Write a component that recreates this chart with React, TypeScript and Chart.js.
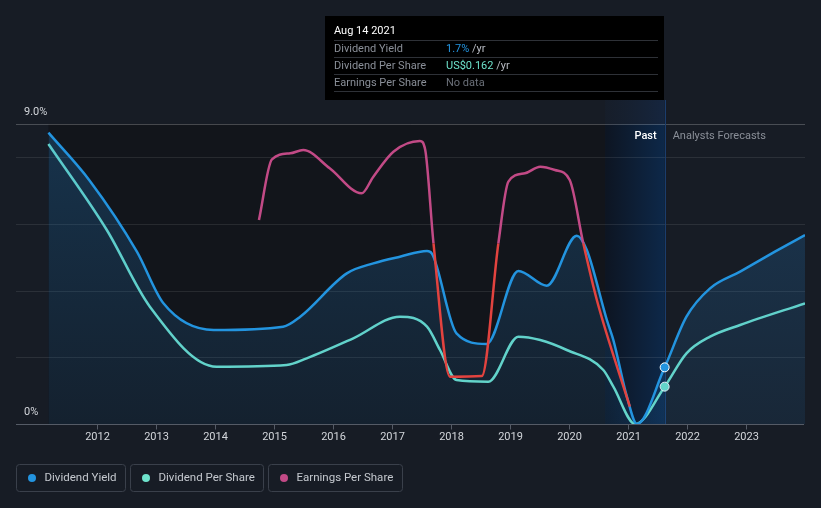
import React, { useEffect, useRef } from 'react';
import { Chart, registerables } from 'chart.js';

Chart.register(...registerables);

// ---- data (x in decimal years, y in chart units: % for yield) ----
const yieldYears = [2011.17, 2011.87, 2012.67, 2013.12, 2013.97, 2015.15, 2015.44, 2016.23, 2016.68, 2017.13, 2017.59, 2017.67, 2018.09, 2018.6, 2019.14, 2019.62, 2020.13, 2020.3, 2020.64, 2020.75, 2020.98, 2021.15, 2021.62, 2021.99, 2022.39, 2022.9, 2023.49, 2024.0];
const yieldValues = [8.74, 7.3, 5.17, 3.62, 2.82, 2.92, 3.22, 4.52, 4.82, 5.02, 5.19, 5.12, 2.72, 2.4, 4.59, 4.15, 5.65, 5.22, 3.12, 2.52, 0.82, 0.0, 1.7, 3.22, 4.07, 4.57, 5.17, 5.67];

const dpsYears = [2011.17, 2012.16, 2012.89, 2014.02, 2015.21, 2015.55, 2016.34, 2017.13, 2017.59, 2017.81, 2018.09, 2018.63, 2019.14, 2019.51, 2019.96, 2020.58, 2020.75, 2021.12, 2021.62, 2021.99, 2022.39, 2022.9, 2024.0];
const dpsValues = [8.4, 5.82, 3.52, 1.72, 1.77, 1.97, 2.57, 3.22, 2.92, 2.22, 1.32, 1.27, 2.62, 2.52, 2.22, 1.62, 1.12, 0.0, 1.12, 2.12, 2.62, 2.97, 3.62];

const epsYears = [2014.74, 2014.96, 2015.27, 2015.49, 2015.94, 2016.48, 2016.68, 2017.02, 2017.47, 2017.56, 2017.7, 2017.98, 2018.52, 2018.8, 2018.97, 2019.25, 2019.51, 2019.76, 2020.01, 2020.24, 2020.47, 2021.03];
const epsValues = [6.12, 7.94, 8.12, 8.22, 7.67, 6.92, 7.42, 8.17, 8.49, 8.22, 5.42, 1.42, 1.44, 5.42, 7.27, 7.52, 7.72, 7.62, 7.32, 5.42, 3.72, 0.52];
const epsRedThreshold = 5.42;

const yearTicks = [2012, 2013, 2014, 2015, 2016, 2017, 2018, 2019, 2020, 2021, 2022, 2023];
const yTopLabel = '9.0%';
const yBottomLabel = '0%';
const pastStart = 2011.17;
const bandStart = 2020.61;
const hoverYear = 2021.62;

const legendItems = [
  { label: 'Dividend Yield', color: '#2394df' },
  { label: 'Dividend Per Share', color: '#6ee3cc' },
  { label: 'Earnings Per Share', color: '#c24a86' },
];

const tooltipTitle = 'Aug 14 2021';
const tooltipRows = [
  { label: 'Dividend Yield', value: '1.7%', unit: ' /yr', color: '#2394df' },
  { label: 'Dividend Per Share', value: 'US$0.162', unit: ' /yr', color: '#6ee3cc' },
  { label: 'Earnings Per Share', value: 'No data', unit: '', color: '#6b7079' },
];

const BLUE = '#2394df';
const TEAL = '#6ee3cc';
const PINK = '#c24a86';
const RED = '#e2433f';
const FONT = 'Roboto, "Noto Sans", sans-serif';

const toPts = (xs: number[], ys: number[]) => xs.map((x, i) => ({ x, y: ys[i] }));

export default function App() {
  const ref = useRef<HTMLCanvasElement | null>(null);

  useEffect(() => {
    const canvas = ref.current;
    if (!canvas) return;

    const bgPlugin = {
      id: 'bgPlugin',
      beforeDraw(chart: any) {
        const { ctx, chartArea, scales } = chart;
        const xs = scales.x;
        const ys = scales.y;
        ctx.save();
        ctx.fillStyle = '#171c25';
        ctx.fillRect(0, 0, chart.width, chart.height);
        const top = ys.getPixelForValue(9);
        const bottom = ys.getPixelForValue(0);
        const px0 = xs.getPixelForValue(pastStart);
        const px1 = xs.getPixelForValue(bandStart);
        ctx.fillStyle = '#12151b';
        ctx.fillRect(px0, top, px1 - px0, bottom - top);
        const hx = xs.getPixelForValue(hoverYear);
        const g = ctx.createLinearGradient(px1, 0, hx, 0);
        g.addColorStop(0, '#0d1522');
        g.addColorStop(1, '#0d2849');
        ctx.fillStyle = g;
        ctx.fillRect(px1, top, hx - px1, bottom - top);
        const g2 = ctx.createLinearGradient(px1, 0, hx, 0);
        g2.addColorStop(0, 'rgba(20,40,70,0.15)');
        g2.addColorStop(1, 'rgba(20,50,95,0.45)');
        ctx.fillStyle = g2;
        ctx.fillRect(px1, 100, hx - px1, top - 100);
        ctx.lineWidth = 1;
        [2, 4, 6, 8].forEach((v) => {
          const y = Math.round(ys.getPixelForValue(v)) + 0.5;
          ctx.strokeStyle = 'rgba(255,255,255,0.09)';
          ctx.beginPath();
          ctx.moveTo(chartArea.left, y);
          ctx.lineTo(chartArea.right, y);
          ctx.stroke();
        });
        const ty = Math.round(top) + 0.5;
        ctx.strokeStyle = 'rgba(255,255,255,0.22)';
        ctx.beginPath();
        ctx.moveTo(chartArea.left, ty);
        ctx.lineTo(chartArea.right, ty);
        ctx.stroke();
        ctx.strokeStyle = '#1a3d6e';
        ctx.beginPath();
        ctx.moveTo(Math.round(hx) + 0.5, 100);
        ctx.lineTo(Math.round(hx) + 0.5, bottom);
        ctx.stroke();
        ctx.restore();
      },
      afterDatasetsDraw(chart: any) {
        const { ctx, chartArea, scales } = chart;
        const xs = scales.x;
        const ys = scales.y;
        ctx.save();
        const by = Math.round(ys.getPixelForValue(0)) + 0.5;
        ctx.strokeStyle = '#555b66';
        ctx.lineWidth = 1;
        ctx.beginPath();
        ctx.moveTo(chartArea.left, by);
        ctx.lineTo(chartArea.right - 1, by);
        ctx.stroke();
        ctx.font = `11px ${FONT}`;
        ctx.textAlign = 'center';
        ctx.textBaseline = 'middle';
        yearTicks.forEach((yr) => {
          const x = Math.round(xs.getPixelForValue(yr)) + 0.5;
          ctx.strokeStyle = '#555b66';
          ctx.beginPath();
          ctx.moveTo(x, by);
          ctx.lineTo(x, by + 5);
          ctx.stroke();
          ctx.fillStyle = '#d3d6db';
          ctx.fillText(String(yr), x, 437);
        });
        ctx.textAlign = 'left';
        ctx.fillStyle = '#d3d6db';
        ctx.fillText(yTopLabel, 24, ys.getPixelForValue(9) - 12);
        ctx.fillText(yBottomLabel, 24, ys.getPixelForValue(0) - 12);
        const hx = xs.getPixelForValue(hoverYear);
        ctx.textAlign = 'right';
        ctx.fillStyle = '#ffffff';
        ctx.font = `500 11px ${FONT}`;
        ctx.fillText('Past', hx - 8, 136);
        ctx.textAlign = 'left';
        ctx.fillStyle = '#8a8f98';
        ctx.font = `11px ${FONT}`;
        ctx.fillText('Analysts Forecasts', hx + 8, 136);
        ctx.restore();
      },
      afterDraw(chart: any) {
        const { ctx } = chart;
        ctx.save();
        const boxes = [
          [16.5, 109],
          [130.5, 133],
          [268.5, 134],
        ];
        legendItems.forEach((it, i) => {
          const [bx, bw] = boxes[i];
          ctx.strokeStyle = '#3a404b';
          ctx.lineWidth = 1;
          ctx.beginPath();
          (ctx as any).roundRect(bx, 464.5, bw, 27, 3);
          ctx.stroke();
          ctx.fillStyle = it.color;
          ctx.beginPath();
          ctx.arc(bx + 15.5, 478, 4, 0, Math.PI * 2);
          ctx.fill();
          ctx.fillStyle = '#c5c9cf';
          ctx.font = `11.5px ${FONT}`;
          ctx.textAlign = 'left';
          ctx.textBaseline = 'middle';
          ctx.fillText(it.label, bx + 28, 478);
        });
        ctx.fillStyle = '#000000';
        ctx.fillRect(325, 16, 339, 84);
        ctx.textBaseline = 'middle';
        ctx.textAlign = 'left';
        ctx.font = `11px ${FONT}`;
        ctx.fillStyle = '#ffffff';
        ctx.fillText(tooltipTitle, 334, 31);
        const sepY = [40.5, 57.5, 74.5, 91.5];
        ctx.strokeStyle = '#2e3137';
        sepY.forEach((y) => {
          ctx.beginPath();
          ctx.moveTo(334, y);
          ctx.lineTo(658, y);
          ctx.stroke();
        });
        tooltipRows.forEach((r, i) => {
          const y = 49 + i * 17;
          ctx.fillStyle = '#8a8f98';
          ctx.fillText(r.label, 334, y);
          ctx.fillStyle = r.color;
          ctx.fillText(r.value, 446, y);
          const w = ctx.measureText(r.value).width;
          ctx.fillStyle = '#b8bcc3';
          ctx.fillText(r.unit, 446 + w, y);
        });
        ctx.restore();
      },
    };

    const markerIdxY = yieldYears.indexOf(hoverYear);
    const markerIdxD = dpsYears.indexOf(hoverYear);

    const chart = new Chart(canvas, {
      type: 'line',
      data: {
        datasets: [
          {
            label: 'Earnings Per Share',
            data: toPts(epsYears, epsValues),
            borderColor: PINK,
            borderWidth: 2.5,
            pointRadius: 0,
            fill: false,
            cubicInterpolationMode: 'monotone',
            segment: {
              borderColor: (c: any) =>
                c.p0.parsed.y <= epsRedThreshold + 0.001 && c.p1.parsed.y <= epsRedThreshold + 0.001 ? RED : PINK,
            },
          },
          {
            label: 'Dividend Yield',
            data: toPts(yieldYears, yieldValues),
            borderColor: BLUE,
            borderWidth: 2.5,
            cubicInterpolationMode: 'monotone',
            fill: 'origin',
            backgroundColor: (c: any) => {
              const ca = c.chart.chartArea;
              if (!ca) return 'rgba(35,120,190,0.2)';
              const g = c.chart.ctx.createLinearGradient(0, ca.top, 0, ca.bottom);
              g.addColorStop(0, 'rgba(35,130,205,0.28)');
              g.addColorStop(1, 'rgba(35,120,190,0.12)');
              return g;
            },
            pointRadius: (c: any) => (c.dataIndex === markerIdxY ? 4.5 : 0),
            pointBackgroundColor: BLUE,
            pointBorderColor: '#ffffff',
            pointBorderWidth: 1,
          },
          {
            label: 'Dividend Per Share',
            data: toPts(dpsYears, dpsValues),
            borderColor: TEAL,
            borderWidth: 2.5,
            cubicInterpolationMode: 'monotone',
            fill: false,
            pointRadius: (c: any) => (c.dataIndex === markerIdxD ? 4.5 : 0),
            pointBackgroundColor: TEAL,
            pointBorderColor: '#ffffff',
            pointBorderWidth: 1,
          },
        ],
      },
      options: {
        responsive: false,
        animation: false,
        devicePixelRatio: 1,
        layout: { padding: { left: 16, right: 16, top: 124, bottom: 84 } },
        scales: {
          x: { type: 'linear', min: 2010.62, max: 2024.0, display: false },
          y: { min: 0, max: 9, display: false },
        },
        plugins: { legend: { display: false }, tooltip: { enabled: false } },
        events: [],
      },
      plugins: [bgPlugin],
    } as any);

    return () => chart.destroy();
  }, []);

  return (
    <div style={{ position: 'fixed', left: 0, top: 0, width: 821, height: 508, background: '#171c25' }}>
      <canvas ref={ref} width={821} height={508} style={{ display: 'block', width: 821, height: 508 }} />
    </div>
  );
}
